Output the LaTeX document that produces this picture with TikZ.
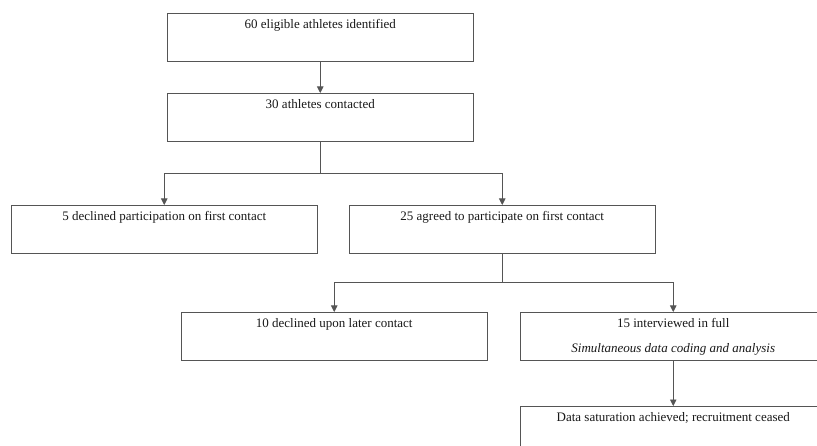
\documentclass[tikz,border=0pt]{standalone}
\usepackage{fontspec}
\setmainfont{Liberation Serif}
\usetikzlibrary{arrows.meta}
\definecolor{ln}{RGB}{85,85,85}
\definecolor{tx}{RGB}{25,25,25}
\begin{document}
\begin{tikzpicture}[x=1pt,y=-1pt,
  box/.style={draw=ln, line width=1pt, minimum width=305.5pt, minimum height=48.5pt, inner sep=0pt, anchor=north west},
  txt/.style={anchor=base, inner sep=0pt, font=\fontsize{13}{15}\selectfont, text=tx},
  conn/.style={draw=ln, line width=0.9pt},
  arr/.style={conn, -{Triangle[width=6.5pt,length=6.5pt]}}]
\useasboundingbox (0,0) rectangle (817,446);
\clip (0,0) rectangle (817,446);
\fill[white] (0,0) rectangle (817,446);

\node[box] (b1) at (167,13) {};
\node[txt] (t1) at ([yshift=-15.5pt]b1.north) {60 eligible athletes identified};

\node[box] (b2) at (167,93) {};
\node[txt] (t2) at ([yshift=-15.5pt]b2.north) {30 athletes contacted};

\node[box] (b3) at (11,205) {};
\node[txt] (t3) at ([yshift=-15.5pt]b3.north) {5 declined participation on first contact};

\node[box] (b4) at (349,205) {};
\node[txt] (t4) at ([yshift=-15.5pt]b4.north) {25 agreed to participate on first contact};

\node[box] (b5) at (181,312) {};
\node[txt] (t5) at ([yshift=-15.5pt]b5.north) {10 declined upon later contact};

\node[box] (b6) at (520,312) {};
\node[txt] (t6) at ([yshift=-15.5pt]b6.north) {15 interviewed in full};
\node[txt] (t6b) at ([yshift=-40.5pt]b6.north) {\itshape Simultaneous data coding and analysis};

\node[box] (b7) at (520,406) {};
\node[txt] (t7) at ([yshift=-15.5pt]b7.north) {Data saturation achieved; recruitment ceased};

\draw[arr] (b1.south) -- (b2.north);

\coordinate (j1) at (b2.south |- 0,173);
\draw[conn] (b2.south) -- (j1);
\draw[arr] (j1) -| (b3.north);
\draw[arr] (j1) -| (b4.north);

\coordinate (j2) at (b4.south |- 0,282);
\draw[conn] (b4.south) -- (j2);
\draw[arr] (j2) -| (b5.north);
\draw[arr] (j2) -| (b6.north);

\draw[arr] (b6.south) -- (b7.north);
\end{tikzpicture}
\end{document}
